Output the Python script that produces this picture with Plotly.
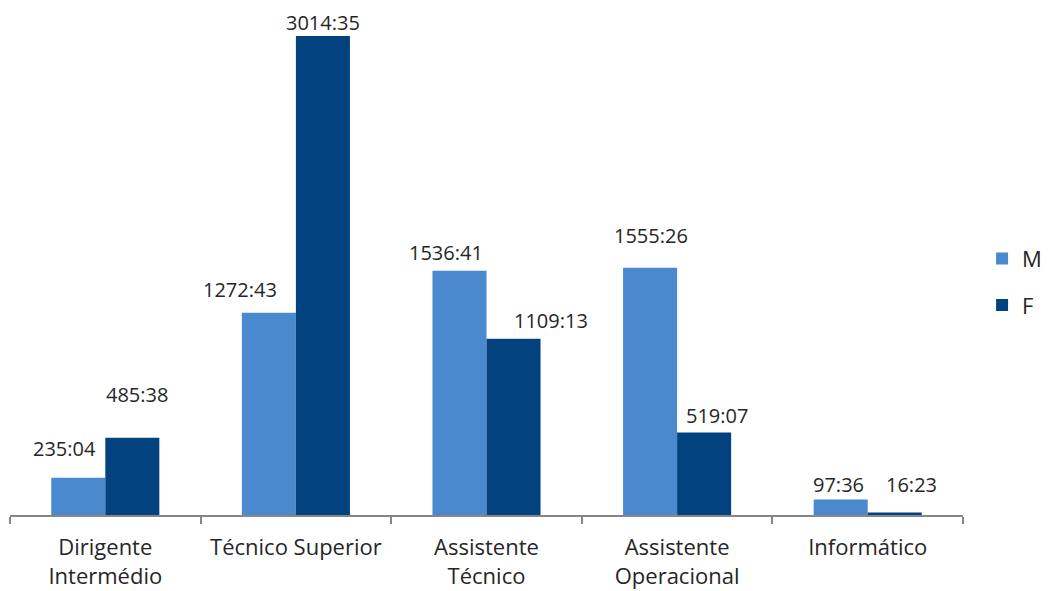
import plotly.graph_objects as go

categories = ["Dirigente<br>Intermédio", "Técnico Superior", "Assistente<br>Técnico",
              "Assistente<br>Operacional", "Informático"]
series_names = ["M", "F"]
m_labels = ["235:04", "1272:43", "1536:41", "1555:26", "97:36"]
f_labels = ["485:38", "3014:35", "1109:13", "519:07", "16:23"]

def to_hours(s):
    h, m = s.split(":")
    return int(h) + int(m) / 60.0

m_values = [to_hours(s) for s in m_labels]
f_values = [to_hours(s) for s in f_labels]

# label placement offsets (px) relative to bar top-centre: (dx, dy)
m_offsets = [(-14, 29), (-29, 23), (-14, 18), (1, 32), (-2, 15)]
f_offsets = [(5, 43), (0, 13), (37, 18), (13, 17), (17, 28)]

colors = {"M": "#4A89CE", "F": "#02437F"}
bar_half = 27

fig = go.Figure()
for name, vals, grp in [("M", m_values, "g1"), ("F", f_values, "g2")]:
    fig.add_trace(go.Bar(x=categories, y=vals, name=name, legendgroup=grp,
                         marker=dict(color=colors[name], line=dict(width=0)),
                         hoverinfo="skip"))

annotations = []
for labels, vals, offs, side in [(m_labels, m_values, m_offsets, -1),
                                 (f_labels, f_values, f_offsets, 1)]:
    for c, lab, v, (dx, dy) in zip(categories, labels, vals, offs):
        annotations.append(dict(x=c, y=v, text=lab, showarrow=False,
                                xanchor="center", yanchor="middle",
                                xshift=side * bar_half + dx, yshift=dy,
                                font=dict(family="Open Sans", size=20, color="#262626")))

fig.update_layout(
    width=1049, height=591,
    margin=dict(l=2, r=94, t=2, b=84),
    paper_bgcolor="white", plot_bgcolor="white",
    barmode="group", bargap=0.433, bargroupgap=0,
    annotations=annotations,
    font=dict(family="Open Sans", color="#262626"),
    legend=dict(x=1.02, xanchor="left", y=0.461, yanchor="middle",
                font=dict(size=22, color="#262626"), tracegroupgap=15,
                itemclick=False, itemdoubleclick=False),
    xaxis=dict(showline=True, linecolor="#868686", linewidth=1.5,
               ticks="outside", tickson="boundaries", ticklen=7,
               tickcolor="#868686", tickwidth=1.5, ticklabelstandoff=12,
               tickfont=dict(family="Open Sans", size=22, color="#262626"),
               showgrid=False),
    yaxis=dict(range=[0, 3178], visible=False, showgrid=False, zeroline=False),
)

fig.write_html("out.html")
